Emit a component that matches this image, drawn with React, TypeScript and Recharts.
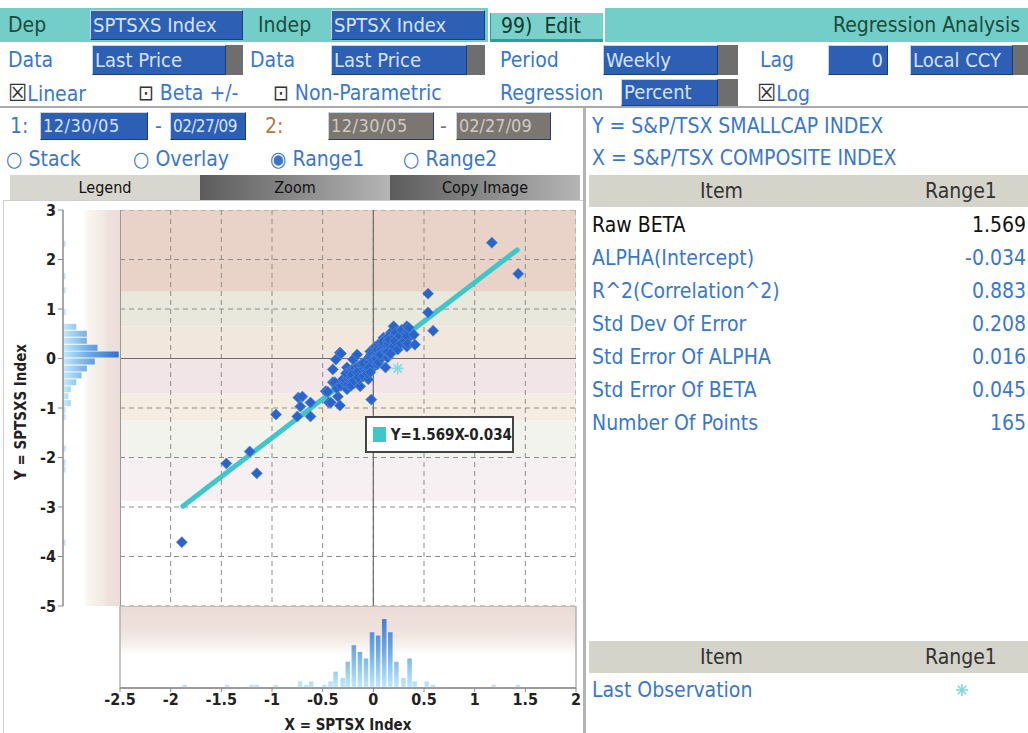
import React from 'react';
import {
  ScatterChart,
  Scatter,
  BarChart,
  Bar,
  XAxis,
  YAxis,
  CartesianGrid,
  ReferenceArea,
  ReferenceLine,
} from 'recharts';

const xTicks = [-2.5, -2, -1.5, -1, -0.5, 0, 0.5, 1, 1.5, 2];
const yTicks = [-5, -4, -3, -2, -1, 0, 1, 2, 3];

const BETA = 1.569;
const ALPHA = -0.034;
const fitFrom = -1.88;
const fitTo = 1.42;

const outliers: [number, number][] = [
  [-1.89, -3.71], [-1.45, -2.12], [-1.22, -1.88], [-1.15, -2.32], [-0.96, -1.13],
  [-0.74, -0.79], [-0.75, -1.17], [-0.7, -0.77], [-0.62, -0.89], [-0.62, -1.17],
  [-0.72, -0.97], [1.17, 2.34], [1.43, 1.71], [0.54, 1.31], [0.54, 0.93],
  [0.59, 0.56], [-0.02, -0.83],
];

const clusterLeft: [number, number][] = [
  [-0.47, -0.66], [-0.44, -0.89], [-0.42, -0.89], [-0.45, -0.67], [-0.4, -0.48],
  [-0.4, -0.22], [-0.37, -0.02], [-0.33, 0.12], [-0.32, 0.1], [-0.35, -0.77],
  [-0.33, -0.95], [-0.38, -0.48], [-0.36, -0.6], [-0.3, -0.42], [-0.32, -0.55],
  [-0.28, -0.5], [-0.27, -0.45], [-0.26, -0.18], [-0.25, -0.4], [-0.26, -0.62],
  [-0.24, -0.35], [-0.27, -0.3], [-0.25, -0.52], [-0.23, -0.28], [-0.21, -0.48],
  [-0.2, -0.02], [-0.22, -0.38], [-0.19, -0.3], [-0.2, -0.42], [-0.21, -0.22],
  [-0.18, -0.36], [-0.19, -0.5], [-0.22, -0.55], [-0.2, -0.25], [-0.18, -0.2],
  [-0.21, -0.33], [-0.19, -0.45], [-0.16, 0.08], [-0.13, -0.56], [-0.15, -0.3],
  [-0.14, -0.22], [-0.13, -0.22], [-0.12, -0.35], [-0.15, -0.15], [-0.14, -0.42],
  [-0.16, -0.28], [-0.12, -0.12], [-0.15, -0.38], [-0.1, -0.36], [-0.08, -0.08],
  [-0.06, -0.02], [-0.05, -0.42], [-0.09, -0.2], [-0.07, -0.25], [-0.08, -0.15],
  [-0.06, -0.3], [-0.1, -0.1],
];

const clusterRight: [number, number][] = [
  [-0.03, 0.14], [-0.03, -0.16], [-0.02, -0.05], [-0.01, -0.1], [-0.04, -0.08],
  [0.0, 0.02], [-0.02, -0.22], [0.01, 0.05], [-0.01, -0.02], [-0.03, 0.04],
  [0.0, -0.12], [-0.04, -0.18], [0.01, 0.1], [-0.02, 0.08], [0.0, -0.04],
  [-0.01, 0.12], [-0.03, -0.28], [0.02, 0.24], [0.04, -0.12], [0.03, 0.05],
  [0.05, 0.1], [0.04, 0.02], [0.06, 0.16], [0.03, -0.04], [0.05, 0.2],
  [0.02, 0.12], [0.06, -0.02], [0.04, 0.08], [0.05, 0.28], [0.03, 0.0],
  [0.06, 0.06], [0.04, 0.18], [0.05, -0.08], [0.07, 0.32], [0.1, 0.42],
  [0.08, 0.12], [0.09, 0.2], [0.11, 0.15], [0.1, 0.05], [0.12, 0.25],
  [0.08, 0.02], [0.11, 0.3], [0.09, 0.1], [0.1, 0.22], [0.12, -0.18],
  [0.08, 0.18], [0.11, 0.08], [0.09, 0.28], [0.12, 0.35], [0.1, 0.12],
  [0.07, 0.08], [0.11, 0.38], [0.12, 0.14], [0.09, 0.34], [0.14, 0.02],
  [0.17, 0.52], [0.15, 0.2], [0.16, 0.28], [0.14, 0.35], [0.15, 0.12],
  [0.17, 0.4], [0.16, 0.18], [0.14, 0.25], [0.15, 0.44], [0.17, 0.22],
  [0.16, 0.08], [0.14, 0.14], [0.18, 0.32], [0.15, 0.3], [0.16, 0.38],
  [0.17, 0.1], [0.2, 0.65], [0.22, 0.3], [0.21, 0.45], [0.23, 0.38],
  [0.2, 0.25], [0.22, 0.52], [0.24, 0.18], [0.21, 0.35], [0.26, 0.45],
  [0.28, 0.58], [0.27, 0.3], [0.33, 0.65], [0.35, 0.42], [0.33, 0.24],
  [0.32, 0.5], [0.34, 0.55], [0.31, 0.36], [0.35, 0.62], [0.33, 0.45],
  [0.34, 0.3], [0.4, 0.48], [0.41, 0.28],
];

const lastObservation: [number, number] = [0.24, -0.2];

// bottom histogram (x = SPTSX weekly % change)
const xHistCenters = [
  -1.86, -1.44, -1.2, -1.15, -0.96, -0.72, -0.66, -0.61, -0.48, -0.42, -0.37, -0.3,
  -0.25, -0.19, -0.13, -0.07, -0.01, 0.05, 0.11, 0.17, 0.23, 0.3, 0.36, 0.41,
  0.53, 0.59, 1.19, 1.43,
];
const xHistCounts = [
  1, 1, 1, 1, 1, 2, 1, 2, 1, 2, 5, 3,
  8, 13, 11, 9, 17, 16, 21, 17, 8, 3, 9, 2,
  2, 1, 1, 1,
];

// left histogram (y = SPTSXS weekly % change)
const yHistCenters = [
  2.31, 1.65, 1.37, 0.93, 0.63, 0.49, 0.35, 0.21, 0.07, -0.07, -0.21, -0.35,
  -0.49, -0.63, -0.77, -0.91, -1.05, -1.19, -1.83, -2.11, -2.25, -3.73,
];
const yHistCounts = [
  1, 1, 1, 1, 5, 9, 9, 13, 21, 12, 9, 7,
  5, 3, 2, 3, 1, 1, 1, 1, 1, 1,
];

const statLabels = [
  'Raw BETA', 'ALPHA(Intercept)', 'R^2(Correlation^2)', 'Std Dev Of Error',
  'Std Error Of ALPHA', 'Std Error Of BETA', 'Number Of Points',
];
const statValues = ['1.569', '-0.034', '0.883', '0.208', '0.016', '0.045', '165'];

// background colour bands of the scatter area (y ranges)
const bands = [
  { y1: 1.35, y2: 3, fill: '#e9d3c9' },
  { y1: 0.65, y2: 1.35, fill: '#e8e8dc' },
  { y1: 0, y2: 0.65, fill: '#f1e7dc' },
  { y1: -0.7, y2: 0, fill: '#f2e5e7' },
  { y1: -1.25, y2: -0.7, fill: '#f5ece2' },
  { y1: -2.0, y2: -1.25, fill: '#f2f3ec' },
  { y1: -2.88, y2: -2.0, fill: '#f6f0f2' },
];

const UI_FONT = "'DejaVu Sans Condensed', 'Liberation Sans Narrow', 'DejaVu Sans', sans-serif";
const BLUE_TEXT = '#3a77cc';
const TEAL = '#73cec9';

const scatterData = [...outliers, ...clusterLeft, ...clusterRight].map(([x, y]) => ({ x, y }));
const lastData = [{ x: lastObservation[0], y: lastObservation[1] }];
const xHistData = xHistCenters.map((x, i) => ({ x, n: xHistCounts[i] }));
const yHistData = yHistCenters.map((y, i) => ({ y, n: yHistCounts[i] }));

const tickStyle = { fontSize: 16, fill: '#222', fontWeight: 700, fontFamily: UI_FONT };
const titleStyle = { fontSize: 15, fill: '#222', fontFamily: UI_FONT, fontWeight: 600 };

const Diamond = (props: any) => {
  const { cx, cy } = props;
  if (cx == null || cy == null) return <g />;
  const r = 5.5;
  return (
    <path
      d={`M${cx},${cy - r}L${cx + r},${cy}L${cx},${cy + r}L${cx - r},${cy}Z`}
      fill="#2b64c8"
      stroke="#4f86dc"
      strokeWidth={0.8}
    />
  );
};

const Asterisk = (props: any) => {
  const { cx, cy } = props;
  if (cx == null || cy == null) return <g />;
  const r = 6;
  return (
    <g stroke="#7fd9e0" strokeWidth={1.6}>
      <line x1={cx - r} y1={cy} x2={cx + r} y2={cy} />
      <line x1={cx} y1={cy - r} x2={cx} y2={cy + r} />
      <line x1={cx - r * 0.7} y1={cy - r * 0.7} x2={cx + r * 0.7} y2={cy + r * 0.7} />
      <line x1={cx - r * 0.7} y1={cy + r * 0.7} x2={cx + r * 0.7} y2={cy - r * 0.7} />
    </g>
  );
};

const abs = (left: number, top: number, extra: React.CSSProperties = {}): React.CSSProperties => ({
  position: 'absolute',
  left,
  top,
  ...extra,
});

function Label({ left, top, h = 32, color = BLUE_TEXT, size = 21, children }: any) {
  return (
    <div style={abs(left, top, { height: h, lineHeight: `${h}px`, color, fontSize: size, whiteSpace: 'nowrap' })}>
      {children}
    </div>
  );
}

function Field({ left, top, width, h = 30, text, handle = 0, bg = '#2d5fb4', fg = '#d5e3f8', align = 'left', size = 20, spacing = 0 }: any) {
  return (
    <>
      <div
        style={abs(left, top, {
          width,
          height: h,
          boxSizing: 'border-box',
          background: bg,
          color: fg,
          fontSize: size,
          letterSpacing: spacing,
          lineHeight: `${h - 2}px`,
          borderTop: '1px solid #c9d3e2',
          borderLeft: '1px solid #c9d3e2',
          borderRight: '1px solid #1c3e78',
          borderBottom: '1px solid #1c3e78',
          paddingLeft: 2,
          paddingRight: 4,
          textAlign: align,
          whiteSpace: 'nowrap',
          overflow: 'hidden',
        })}
      >
        {text}
      </div>
      {handle > 0 && <div style={abs(left + width, top, { width: handle, height: h, background: '#6e6e6e' })} />}
    </>
  );
}

function Header() {
  return (
    <>
      {/* row 1 */}
      <div style={abs(0, 8, { width: 488, height: 34, background: TEAL })} />
      <Label left={8} top={8} h={34} color="#1c4c3a">Dep</Label>
      <Field left={90} top={10} width={153} text="SPTSXS Index" />
      <Label left={258} top={8} h={34} color="#1c4c3a">Indep</Label>
      <Field left={331} top={10} width={154} text="SPTSX Index" />
      <div
        style={abs(490, 13, {
          width: 113,
          height: 29,
          boxSizing: 'border-box',
          background: '#7ad1cb',
          borderBottom: '3px solid #2e9e99',
          borderLeft: '1px solid #2e9e99',
          color: '#0f3a2c',
          fontSize: 21,
          lineHeight: '26px',
          paddingLeft: 10,
          whiteSpace: 'pre',
        })}
      >
        {'99)  Edit'}
      </div>
      <div
        style={abs(605, 8, {
          width: 423,
          height: 34,
          background: TEAL,
          color: '#1c4c3a',
          fontSize: 21,
          lineHeight: '34px',
          textAlign: 'right',
          paddingRight: 8,
          boxSizing: 'border-box',
        })}
      >
        Regression Analysis
      </div>

      {/* row 2 */}
      <Label left={8} top={44}>Data</Label>
      <Field left={92} top={45} width={134} text="Last Price" handle={17} />
      <Label left={250} top={44}>Data</Label>
      <Field left={331} top={45} width={136} text="Last Price" handle={18} />
      <Label left={500} top={44}>Period</Label>
      <Field left={603} top={45} width={115} text="Weekly" handle={20} />
      <Label left={760} top={44}>Lag</Label>
      <Field left={828} top={45} width={60} text="0" align="right" />
      <Field left={910} top={45} width={103} text="Local CCY" handle={15} />

      {/* row 3 */}
      <Label left={8} top={78} h={30}><span style={{ color: '#333', fontSize: 24 }}>☒</span>Linear</Label>
      <Label left={138} top={78} h={30}><span style={{ color: '#333' }}>⊡</span> Beta +/-</Label>
      <Label left={273} top={78} h={30}><span style={{ color: '#333' }}>⊡</span> Non-Parametric</Label>
      <Label left={500} top={78} h={30}>Regression</Label>
      <Field left={621} top={79} width={97} h={27} text="Percent" handle={20} />
      <Label left={757} top={78} h={30}><span style={{ color: '#333', fontSize: 24 }}>☒</span>Log</Label>

      <div style={abs(0, 106, { width: 1028, height: 2, background: '#a9a9a9' })} />

      {/* row 4 */}
      <Label left={10} top={111} h={30}>1:</Label>
      <Field left={40} top={112} width={108} h={28} text="12/30/05" size={18} spacing={0.5} />
      <Label left={155} top={111} h={30}>-</Label>
      <Field left={170} top={112} width={76} h={28} text="02/27/09" size={17} spacing={-0.6} />
      <Label left={265} top={111} h={30} color="#b07a45">2:</Label>
      <Field left={328} top={112} width={106} h={28} text="12/30/05" bg="#7b766f" fg="#cfcac4" size={18} spacing={0.5} />
      <Label left={440} top={111} h={30} color="#777">-</Label>
      <Field left={456} top={112} width={95} h={28} text="02/27/09" bg="#7b766f" fg="#cfcac4" size={18} />

      {/* row 5 */}
      <Label left={6} top={144} h={30}>○ Stack</Label>
      <Label left={133} top={144} h={30}>○ Overlay</Label>
      <Label left={270} top={144} h={30}>◉ Range1</Label>
      <Label left={403} top={144} h={30}>○ Range2</Label>

      {/* tabs */}
      <div style={abs(10, 175, { width: 190, height: 25, background: '#d8d7cf' })} />
      <div style={abs(200, 175, { width: 190, height: 25, background: 'linear-gradient(to right, #5c5c5c, #b5b5b5)' })} />
      <div style={abs(390, 175, { width: 190, height: 25, background: 'linear-gradient(to right, #5c5c5c, #b5b5b5)' })} />
      {['Legend', 'Zoom', 'Copy Image'].map((t, i) => (
        <div
          key={t}
          style={abs(10 + i * 190, 175, {
            width: 190,
            height: 25,
            lineHeight: '25px',
            textAlign: 'center',
            fontSize: 16,
            color: '#111',
          })}
        >
          {t}
        </div>
      ))}
    </>
  );
}

function RightPanel() {
  return (
    <>
      <div style={abs(583, 108, { width: 3, height: 625, background: '#b4b4b4' })} />
      <Label left={592} top={110} h={32}>Y = S&amp;P/TSX SMALLCAP INDEX</Label>
      <Label left={592} top={142} h={32}>X = S&amp;P/TSX COMPOSITE INDEX</Label>

      <div style={abs(589, 175, { width: 439, height: 32, background: '#d5d4ca' })} />
      <Label left={700} top={175} color="#333">Item</Label>
      <Label left={925} top={175} color="#333">Range1</Label>
      {statLabels.map((l, i) => (
        <React.Fragment key={l}>
          <Label left={592} top={209 + i * 33} color={i === 0 ? '#111' : BLUE_TEXT}>{l}</Label>
          <div
            style={abs(893, 209 + i * 33, {
              width: 133,
              height: 32,
              lineHeight: '32px',
              fontSize: 21,
              textAlign: 'right',
              color: i === 0 ? '#111' : BLUE_TEXT,
            })}
          >
            {statValues[i]}
          </div>
        </React.Fragment>
      ))}

      <div style={abs(589, 641, { width: 439, height: 32, background: '#d5d4ca' })} />
      <Label left={700} top={641} color="#333">Item</Label>
      <Label left={925} top={641} color="#333">Range1</Label>
      <Label left={592} top={674}>Last Observation</Label>
      <svg style={abs(954, 682)} width={16} height={16}>
        <Asterisk cx={8} cy={8} />
      </svg>
    </>
  );
}

export default function App() {
  return (
    <div
      style={{
        position: 'absolute',
        left: 0,
        top: 0,
        width: 1028,
        height: 733,
        overflow: 'hidden',
        background: '#fff',
        fontFamily: UI_FONT,
      }}
    >
      <Header />
      <div style={abs(3, 200, { width: 580, height: 533, borderTop: '1px solid #cfcfcf', borderLeft: '1px solid #cfcfcf' })} />

      {/* left histogram + Y axis */}
      <div style={abs(0, 200)}>
        <BarChart width={122} height={416} data={yHistData} layout="vertical" margin={{ top: 10, right: 2, bottom: 10, left: 0 }}>
          <defs>
            <linearGradient id="bgLeft" x1="63" x2="120" y1="0" y2="0" gradientUnits="userSpaceOnUse">
              <stop offset="0" stopColor="#ffffff" />
              <stop offset="0.35" stopColor="#ffffff" />
              <stop offset="0.45" stopColor="#f8f4ef" />
              <stop offset="0.7" stopColor="#f2eae3" />
              <stop offset="0.8" stopColor="#eee0dc" />
              <stop offset="1" stopColor="#ecdcda" />
            </linearGradient>
            <linearGradient id="barLeft" x1="63" x2="120" y1="0" y2="0" gradientUnits="userSpaceOnUse">
              <stop offset="0" stopColor="#c2ebf9" />
              <stop offset="0.45" stopColor="#6eaae6" />
              <stop offset="1" stopColor="#2f6ccc" />
            </linearGradient>
          </defs>
          <CartesianGrid horizontal={false} vertical={false} fill="url(#bgLeft)" />
          <XAxis type="number" dataKey="n" domain={[0, 21.5]} hide />
          <YAxis
            type="number"
            dataKey="y"
            domain={[-5, 3]}
            ticks={yTicks}
            reversed
            width={63}
            tick={tickStyle}
            axisLine={{ stroke: '#8c8c8c', strokeWidth: 1.5 }}
            tickLine={{ stroke: '#8c8c8c' }}
            tickSize={5}
            label={{
              value: 'Y = SPTSXS Index',
              angle: -90,
              position: 'center',
              dx: -11,
              dy: 4,
              style: titleStyle,
            }}
          />
          <Bar dataKey="n" barSize={6} fill="url(#barLeft)" isAnimationActive={false} />
        </BarChart>
      </div>

      {/* scatter */}
      <div style={abs(120, 210)}>
        <ScatterChart width={456} height={396} margin={{ top: 0, right: 0, bottom: 0, left: 0 }}>
          <XAxis type="number" dataKey="x" domain={[-2.5, 2]} ticks={xTicks} hide />
          <YAxis type="number" dataKey="y" domain={[-5, 3]} ticks={yTicks} hide />
          {bands.map((b) => (
            <ReferenceArea key={b.y1} y1={b.y1} y2={b.y2} fill={b.fill} fillOpacity={1} stroke="none" zIndex={-200} />
          ))}
          <CartesianGrid strokeDasharray="5 4" stroke="#8d8d8d" />
          <ReferenceLine x={0} stroke="#6d6d6d" strokeWidth={1.2} />
          <ReferenceLine y={0} stroke="#6d6d6d" strokeWidth={1.2} />
          <ReferenceLine x={-2.5} stroke="#999" strokeWidth={2} />
          <ReferenceLine
            segment={[
              { x: fitFrom, y: BETA * fitFrom + ALPHA },
              { x: fitTo, y: BETA * fitTo + ALPHA },
            ]}
            stroke="#3ec7c8"
            strokeWidth={5}
            strokeLinecap="round"
          />
          <Scatter data={scatterData} shape={Diamond} isAnimationActive={false} />
          <Scatter data={lastData} shape={Asterisk} isAnimationActive={false} />
        </ScatterChart>
      </div>

      {/* regression legend */}
      <div
        style={abs(365, 416, {
          width: 149,
          height: 37,
          boxSizing: 'border-box',
          background: '#fff',
          border: '2px solid #444',
          display: 'flex',
          alignItems: 'center',
          paddingLeft: 6,
          fontSize: 15,
          fontWeight: 600,
          color: '#222',
        })}
      >
        <span style={{ display: 'inline-block', width: 15, height: 15, background: '#3ec7c8', marginRight: 5 }} />
        Y={BETA}X{ALPHA}
      </div>

      {/* bottom histogram + X axis */}
      <div style={abs(100, 606)}>
        <BarChart width={496} height={127} data={xHistData} margin={{ top: 0, right: 20, bottom: 0, left: 20 }}>
          <defs>
            <linearGradient id="bgBottom" x1="0" x2="0" y1="0" y2="82" gradientUnits="userSpaceOnUse">
              <stop offset="0" stopColor="#ecdcd7" />
              <stop offset="0.3" stopColor="#eee2dc" />
              <stop offset="0.45" stopColor="#f5efea" />
              <stop offset="0.6" stopColor="#ffffff" />
              <stop offset="1" stopColor="#ffffff" />
            </linearGradient>
            <linearGradient id="barBottom" x1="0" x2="0" y1="0" y2="82" gradientUnits="userSpaceOnUse">
              <stop offset="0" stopColor="#2f6ccc" />
              <stop offset="0.55" stopColor="#6eaae6" />
              <stop offset="1" stopColor="#c2ebf9" />
            </linearGradient>
          </defs>
          <CartesianGrid horizontal={false} vertical={false} fill="url(#bgBottom)" />
          <ReferenceArea x1={-2.5} x2={2} y1={0} y2={25} fill="none" stroke="#b3b3b3" strokeWidth={1.5} />
          <XAxis
            type="number"
            dataKey="x"
            domain={[-2.5, 2]}
            ticks={xTicks}
            height={45}
            tick={tickStyle}
            axisLine={{ stroke: '#8c8c8c', strokeWidth: 1.5 }}
            tickLine={{ stroke: '#8c8c8c' }}
            tickSize={4}
            label={{
              value: 'X = SPTSX Index',
              position: 'insideBottom',
              offset: 3,
              style: titleStyle,
            }}
          />
          <YAxis type="number" domain={[0, 25]} hide />
          <Bar dataKey="n" barSize={6} fill="url(#barBottom)" isAnimationActive={false} />
        </BarChart>
      </div>

      <RightPanel />
    </div>
  );
}
